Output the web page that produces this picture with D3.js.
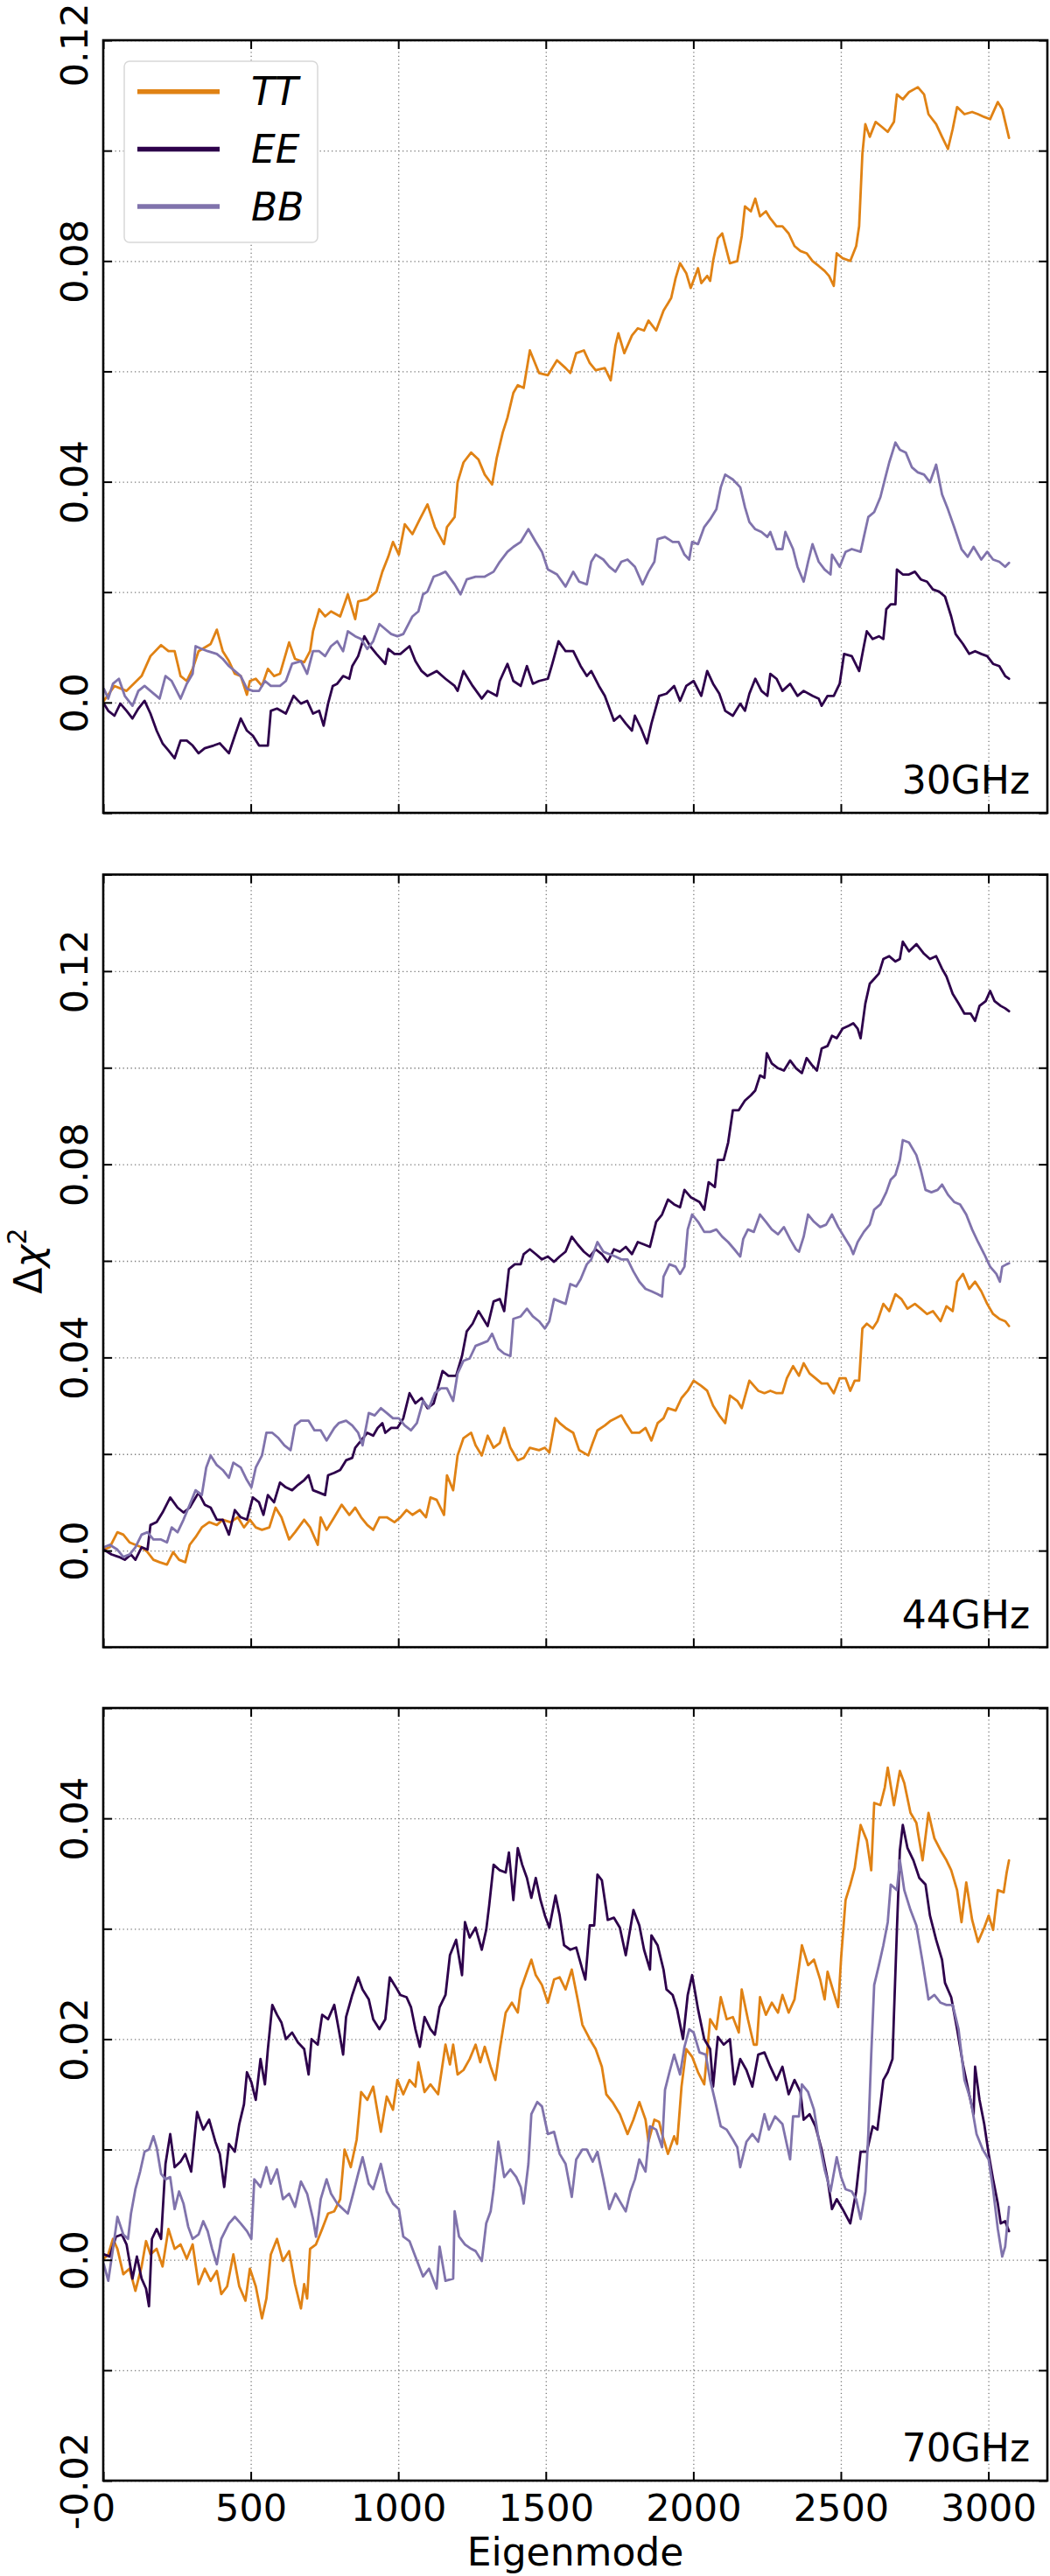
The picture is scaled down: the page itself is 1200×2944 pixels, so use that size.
<!DOCTYPE html>
<html><head><meta charset="utf-8">
<script src="https://cdn.jsdelivr.net/npm/d3@7"></script>
<style>
body{margin:0;background:#fff;}
svg text{font-family:"DejaVu Sans",sans-serif;}
</style></head>
<body><svg id="chart" width="1200" height="2944"></svg>
<script>
// ---------------- DATA ----------------
const seriesNames = ["TT","EE","BB"];
const seriesColors = ["#e08214","#2d004b","#8073ac"];
const panelLabels = ["30GHz","44GHz","70GHz"];
const xDomain = [0,3200];
const xTicks = [0,500,1000,1500,2000,2500,3000];
const xLabel = "Eigenmode";
const yDomain30 = [-0.02,0.12], yTicks30 = [-0.02,0,0.02,0.04,0.06,0.08,0.10,0.12], yTickLabels30 = [0,0.04,0.08,0.12];
const yDomain44 = [-0.02,0.14], yTicks44 = [-0.02,0,0.02,0.04,0.06,0.08,0.10,0.12,0.14], yTickLabels44 = [0,0.04,0.08,0.12];
const yDomain70 = [-0.02,0.05], yTicks70 = [-0.02,-0.01,0,0.01,0.02,0.03,0.04,0.05], yTickLabels70 = [-0.02,0,0.02,0.04];

const tt30 = [[2,0.0003],[38,0.0030],[79,0.0021],[130,0.0048],[160,0.0084],[196,0.0104],[221,0.0093],[242,0.0093],[262,0.0048],[283,0.0039],[303,0.0061],[323,0.0093],[364,0.0106],[385,0.0132],[405,0.0093],[426,0.0075],[446,0.0052],[466,0.0048],[487,0.0014],[497,0.0039],[517,0.0043],[538,0.0030],[558,0.0061],[579,0.0048],[599,0.0052],[630,0.0109],[650,0.0079],[681,0.0073],[701,0.0093],[711,0.0129],[732,0.0169],[752,0.0156],[772,0.0165],[803,0.0156],[829,0.0196],[854,0.0151],[864,0.0183],[895,0.0187],[926,0.0201],[946,0.0237],[966,0.0264],[982,0.0291],[1002,0.0268],[1022,0.0323],[1048,0.0305],[1073,0.0332],[1099,0.0359],[1124,0.0318],[1155,0.0287],[1165,0.0318],[1191,0.0336],[1201,0.0399],[1221,0.0435],[1247,0.0453],[1272,0.0440],[1293,0.0413],[1318,0.0395],[1334,0.0444],[1354,0.0489],[1370,0.0516],[1390,0.0561],[1405,0.0575],[1425,0.0570],[1446,0.0638],[1477,0.0597],[1507,0.0593],[1538,0.0620],[1567,0.0606],[1583,0.0597],[1603,0.0633],[1629,0.0638],[1649,0.0615],[1669,0.0602],[1700,0.0606],[1720,0.0584],[1736,0.0647],[1746,0.0669],[1766,0.0633],[1792,0.0665],[1812,0.0678],[1833,0.0674],[1848,0.0692],[1874,0.0674],[1899,0.0710],[1925,0.0733],[1940,0.0769],[1955,0.0796],[1976,0.0778],[1991,0.0751],[2016,0.0787],[2027,0.0760],[2047,0.0773],[2057,0.0764],[2067,0.0800],[2083,0.0841],[2098,0.0850],[2124,0.0796],[2149,0.0800],[2164,0.0845],[2175,0.0899],[2195,0.0890],[2210,0.0913],[2226,0.0881],[2246,0.0890],[2261,0.0877],[2282,0.0863],[2302,0.0863],[2323,0.0850],[2343,0.0827],[2363,0.0818],[2384,0.0814],[2404,0.0800],[2425,0.0791],[2445,0.0782],[2460,0.0773],[2476,0.0755],[2486,0.0814],[2506,0.0805],[2532,0.0800],[2552,0.0827],[2562,0.0863],[2573,0.0994],[2583,0.1048],[2598,0.1025],[2618,0.1052],[2639,0.1043],[2659,0.1034],[2680,0.1052],[2690,0.1102],[2710,0.1093],[2731,0.1106],[2761,0.1115],[2782,0.1102],[2797,0.1066],[2823,0.1048],[2843,0.1025],[2863,0.1003],[2879,0.1039],[2894,0.1079],[2919,0.1066],[2945,0.1070],[2965,0.1066],[2986,0.1061],[3006,0.1057],[3032,0.1088],[3047,0.1075],[3070,0.1023]];
const ee30 = [[2,-0.0002],[17,-0.0015],[38,-0.0024],[58,-0.0002],[79,-0.0015],[99,-0.0029],[119,-0.0011],[140,0.0003],[160,-0.0020],[181,-0.0051],[201,-0.0074],[221,-0.0087],[242,-0.0101],[262,-0.0069],[283,-0.0069],[303,-0.0078],[323,-0.0092],[344,-0.0083],[374,-0.0078],[395,-0.0074],[426,-0.0092],[446,-0.0060],[466,-0.0029],[487,-0.0051],[507,-0.0060],[528,-0.0078],[558,-0.0078],[568,-0.0015],[589,-0.0011],[619,-0.0020],[645,0.0012],[670,-0.0002],[691,0.0003],[711,-0.0020],[732,-0.0015],[747,-0.0042],[762,-0.0002],[778,0.0030],[793,0.0034],[813,0.0048],[834,0.0043],[844,0.0066],[864,0.0084],[885,0.0120],[905,0.0102],[926,0.0088],[956,0.0070],[966,0.0097],[987,0.0088],[1007,0.0088],[1038,0.0102],[1058,0.0075],[1079,0.0057],[1099,0.0048],[1130,0.0057],[1160,0.0043],[1191,0.0030],[1201,0.0021],[1221,0.0057],[1252,0.0030],[1283,0.0007],[1303,0.0021],[1334,0.0012],[1344,0.0039],[1370,0.0070],[1390,0.0039],[1415,0.0030],[1436,0.0066],[1456,0.0034],[1477,0.0039],[1507,0.0043],[1522,0.0070],[1543,0.0111],[1567,0.0093],[1593,0.0093],[1618,0.0066],[1639,0.0048],[1654,0.0057],[1680,0.0030],[1700,0.0012],[1731,-0.0033],[1751,-0.0024],[1771,-0.0038],[1792,-0.0051],[1802,-0.0024],[1823,-0.0047],[1843,-0.0074],[1858,-0.0038],[1884,0.0012],[1909,0.0016],[1935,0.0030],[1955,0.0003],[1976,0.0030],[2001,0.0039],[2027,0.0012],[2047,0.0057],[2067,0.0034],[2088,0.0016],[2108,-0.0015],[2134,-0.0024],[2159,-0.0002],[2175,-0.0015],[2190,0.0016],[2210,0.0043],[2231,0.0021],[2251,0.0012],[2261,0.0052],[2282,0.0043],[2302,0.0021],[2328,0.0034],[2353,0.0012],[2374,0.0021],[2404,0.0012],[2425,0.0007],[2435,-0.0006],[2455,0.0012],[2476,0.0012],[2496,0.0034],[2511,0.0088],[2537,0.0084],[2562,0.0057],[2578,0.0102],[2588,0.0129],[2608,0.0115],[2629,0.0120],[2644,0.0115],[2654,0.0169],[2669,0.0178],[2685,0.0178],[2690,0.0241],[2710,0.0232],[2731,0.0232],[2751,0.0237],[2771,0.0223],[2792,0.0219],[2812,0.0205],[2833,0.0201],[2853,0.0192],[2874,0.0156],[2889,0.0124],[2914,0.0106],[2935,0.0088],[2955,0.0093],[2976,0.0088],[2996,0.0084],[3016,0.0070],[3037,0.0066],[3057,0.0048],[3070,0.0043]];
const bb30 = [[2,0.0025],[17,0.0007],[33,0.0034],[53,0.0043],[73,0.0012],[99,-0.0006],[119,0.0021],[140,0.0030],[160,0.0021],[191,0.0007],[211,0.0048],[232,0.0039],[262,0.0007],[283,0.0034],[303,0.0052],[313,0.0102],[334,0.0097],[354,0.0093],[385,0.0088],[405,0.0079],[426,0.0066],[446,0.0057],[466,0.0048],[487,0.0025],[507,0.0021],[528,0.0021],[548,0.0039],[568,0.0030],[599,0.0030],[619,0.0039],[640,0.0070],[670,0.0075],[691,0.0052],[711,0.0093],[732,0.0093],[752,0.0084],[772,0.0102],[793,0.0111],[813,0.0093],[829,0.0129],[854,0.0120],[874,0.0115],[895,0.0097],[915,0.0111],[936,0.0142],[956,0.0133],[976,0.0124],[997,0.0120],[1017,0.0124],[1048,0.0156],[1068,0.0165],[1084,0.0196],[1099,0.0201],[1120,0.0228],[1140,0.0232],[1160,0.0237],[1191,0.0214],[1211,0.0196],[1232,0.0223],[1262,0.0228],[1293,0.0228],[1323,0.0237],[1344,0.0255],[1370,0.0273],[1390,0.0282],[1415,0.0291],[1441,0.0314],[1466,0.0291],[1487,0.0273],[1507,0.0241],[1538,0.0232],[1567,0.0210],[1593,0.0237],[1613,0.0219],[1639,0.0214],[1654,0.0255],[1669,0.0268],[1695,0.0259],[1715,0.0246],[1736,0.0237],[1756,0.0255],[1777,0.0259],[1802,0.0246],[1828,0.0214],[1848,0.0237],[1868,0.0255],[1879,0.0296],[1904,0.0300],[1930,0.0291],[1950,0.0291],[1970,0.0268],[1986,0.0259],[1996,0.0291],[2016,0.0287],[2037,0.0318],[2057,0.0332],[2078,0.0350],[2093,0.0390],[2108,0.0413],[2134,0.0404],[2159,0.0390],[2175,0.0354],[2190,0.0327],[2210,0.0314],[2231,0.0309],[2251,0.0300],[2261,0.0309],[2282,0.0278],[2302,0.0278],[2312,0.0309],[2338,0.0278],[2353,0.0246],[2374,0.0219],[2389,0.0255],[2404,0.0287],[2425,0.0255],[2445,0.0241],[2465,0.0232],[2470,0.0268],[2496,0.0246],[2516,0.0273],[2537,0.0278],[2567,0.0273],[2578,0.0300],[2593,0.0336],[2613,0.0345],[2634,0.0372],[2649,0.0404],[2664,0.0435],[2685,0.0471],[2700,0.0458],[2720,0.0453],[2741,0.0426],[2761,0.0417],[2782,0.0413],[2802,0.0399],[2823,0.0431],[2843,0.0377],[2863,0.0350],[2884,0.0318],[2909,0.0278],[2930,0.0264],[2950,0.0282],[2976,0.0259],[2996,0.0273],[3016,0.0259],[3037,0.0255],[3057,0.0246],[3070,0.0253]];

const tt44 = [[2,0.0002],[22,0.0007],[48,0.0038],[68,0.0033],[89,0.0017],[109,0.0012],[130,0.0007],[150,-0.0003],[170,-0.0019],[191,-0.0024],[216,-0.0029],[237,-0.0003],[257,-0.0019],[278,-0.0024],[293,0.0012],[313,0.0028],[334,0.0048],[359,0.0059],[385,0.0053],[405,0.0064],[431,0.0059],[456,0.0069],[477,0.0048],[497,0.0064],[517,0.0048],[538,0.0043],[563,0.0048],[584,0.0089],[604,0.0069],[630,0.0023],[650,0.0038],[681,0.0064],[701,0.0048],[727,0.0012],[737,0.0069],[757,0.0043],[783,0.0069],[808,0.0095],[834,0.0074],[854,0.0089],[874,0.0069],[895,0.0053],[915,0.0043],[936,0.0069],[961,0.0069],[987,0.0059],[1007,0.0069],[1028,0.0084],[1048,0.0074],[1073,0.0084],[1094,0.0069],[1109,0.0110],[1130,0.0105],[1155,0.0074],[1165,0.0156],[1186,0.0125],[1201,0.0197],[1221,0.0233],[1247,0.0244],[1262,0.0218],[1283,0.0197],[1303,0.0238],[1323,0.0213],[1344,0.0223],[1359,0.0254],[1380,0.0213],[1405,0.0187],[1425,0.0192],[1446,0.0213],[1477,0.0208],[1497,0.0213],[1512,0.0203],[1533,0.0274],[1547,0.0264],[1567,0.0254],[1593,0.0244],[1613,0.0208],[1644,0.0197],[1659,0.0223],[1675,0.0249],[1700,0.0259],[1720,0.0269],[1756,0.0280],[1771,0.0264],[1792,0.0244],[1817,0.0244],[1838,0.0254],[1858,0.0228],[1879,0.0264],[1899,0.0274],[1914,0.0295],[1940,0.0290],[1960,0.0316],[1981,0.0331],[2001,0.0352],[2027,0.0341],[2047,0.0331],[2067,0.0300],[2088,0.0280],[2108,0.0264],[2124,0.0321],[2149,0.0310],[2164,0.0295],[2190,0.0352],[2220,0.0331],[2241,0.0326],[2261,0.0331],[2282,0.0326],[2302,0.0326],[2317,0.0357],[2338,0.0382],[2358,0.0362],[2374,0.0388],[2394,0.0367],[2414,0.0357],[2435,0.0346],[2455,0.0346],[2476,0.0326],[2496,0.0357],[2516,0.0357],[2532,0.0331],[2547,0.0352],[2562,0.0352],[2573,0.0460],[2588,0.0470],[2608,0.0460],[2624,0.0475],[2644,0.0511],[2664,0.0496],[2685,0.0531],[2705,0.0521],[2726,0.0501],[2751,0.0511],[2771,0.0501],[2792,0.0490],[2812,0.0496],[2838,0.0475],[2858,0.0506],[2879,0.0496],[2894,0.0557],[2914,0.0573],[2935,0.0542],[2955,0.0557],[2976,0.0537],[2996,0.0511],[3016,0.0490],[3037,0.0480],[3057,0.0475],[3070,0.0465]];
const ee44 = [[2,0.0002],[28,-0.0008],[53,-0.0013],[73,-0.0019],[94,-0.0008],[109,-0.0019],[130,0.0007],[150,0.0002],[160,0.0053],[181,0.0059],[201,0.0079],[227,0.0110],[252,0.0089],[272,0.0079],[293,0.0089],[323,0.0120],[344,0.0095],[364,0.0089],[385,0.0064],[405,0.0064],[426,0.0033],[446,0.0084],[466,0.0069],[487,0.0064],[507,0.0110],[528,0.0100],[543,0.0074],[558,0.0115],[579,0.0100],[599,0.0141],[619,0.0131],[640,0.0125],[660,0.0136],[681,0.0146],[696,0.0156],[711,0.0125],[732,0.0120],[752,0.0115],[762,0.0156],[783,0.0161],[803,0.0167],[823,0.0187],[844,0.0192],[854,0.0213],[874,0.0228],[895,0.0244],[915,0.0238],[930,0.0254],[946,0.0264],[956,0.0244],[976,0.0254],[997,0.0254],[1017,0.0274],[1038,0.0326],[1058,0.0305],[1079,0.0316],[1099,0.0295],[1120,0.0305],[1150,0.0372],[1170,0.0362],[1196,0.0362],[1216,0.0403],[1232,0.0454],[1252,0.0470],[1272,0.0496],[1293,0.0475],[1303,0.0465],[1323,0.0516],[1344,0.0521],[1359,0.0496],[1375,0.0583],[1395,0.0593],[1415,0.0593],[1425,0.0614],[1446,0.0624],[1466,0.0614],[1487,0.0603],[1507,0.0609],[1528,0.0598],[1547,0.0609],[1567,0.0619],[1588,0.0650],[1608,0.0634],[1629,0.0619],[1649,0.0609],[1669,0.0624],[1690,0.0614],[1710,0.0598],[1731,0.0624],[1751,0.0619],[1771,0.0629],[1792,0.0614],[1812,0.0639],[1833,0.0634],[1853,0.0629],[1874,0.0681],[1894,0.0696],[1914,0.0727],[1935,0.0717],[1955,0.0711],[1970,0.0747],[1991,0.0732],[2006,0.0727],[2021,0.0722],[2037,0.0706],[2052,0.0763],[2073,0.0753],[2083,0.0809],[2103,0.0809],[2118,0.0845],[2134,0.0912],[2154,0.0912],[2175,0.0932],[2195,0.0943],[2210,0.0953],[2226,0.0984],[2241,0.0979],[2249,0.1030],[2266,0.1009],[2287,0.0999],[2307,0.0994],[2328,0.1015],[2348,0.0999],[2368,0.0989],[2384,0.1020],[2404,0.1004],[2419,0.0994],[2435,0.1040],[2455,0.1045],[2470,0.1066],[2486,0.1061],[2506,0.1081],[2527,0.1087],[2542,0.1092],[2557,0.1081],[2567,0.1061],[2583,0.1133],[2598,0.1174],[2613,0.1184],[2629,0.1195],[2644,0.1225],[2664,0.1231],[2685,0.1220],[2700,0.1225],[2710,0.1261],[2731,0.1241],[2756,0.1256],[2782,0.1236],[2802,0.1225],[2823,0.1231],[2843,0.1205],[2858,0.1189],[2879,0.1153],[2899,0.1133],[2919,0.1112],[2940,0.1112],[2955,0.1097],[2970,0.1128],[2991,0.1138],[3006,0.1159],[3021,0.1138],[3042,0.1128],[3057,0.1123],[3070,0.1117]];
const bb44 = [[2,0.0007],[22,0.0012],[48,0.0002],[68,-0.0013],[89,-0.0008],[109,0.0007],[130,0.0033],[150,0.0038],[170,0.0023],[196,0.0023],[216,0.0017],[232,0.0048],[252,0.0038],[272,0.0064],[293,0.0095],[313,0.0125],[334,0.0115],[349,0.0172],[364,0.0197],[385,0.0177],[405,0.0167],[426,0.0151],[441,0.0182],[466,0.0172],[487,0.0146],[502,0.0131],[517,0.0172],[538,0.0197],[553,0.0244],[573,0.0244],[594,0.0233],[614,0.0218],[635,0.0208],[650,0.0259],[670,0.0269],[696,0.0269],[716,0.0249],[737,0.0249],[757,0.0228],[783,0.0254],[798,0.0264],[823,0.0269],[844,0.0259],[864,0.0244],[879,0.0218],[900,0.0285],[920,0.0280],[941,0.0295],[961,0.0285],[982,0.0274],[1002,0.0274],[1022,0.0259],[1043,0.0249],[1063,0.0264],[1084,0.0310],[1104,0.0295],[1124,0.0326],[1145,0.0336],[1165,0.0336],[1186,0.0310],[1201,0.0367],[1221,0.0393],[1242,0.0398],[1262,0.0424],[1283,0.0429],[1303,0.0434],[1318,0.0449],[1339,0.0418],[1359,0.0408],[1380,0.0403],[1390,0.0480],[1415,0.0485],[1436,0.0501],[1456,0.0485],[1477,0.0475],[1497,0.0460],[1512,0.0475],[1528,0.0521],[1547,0.0516],[1567,0.0511],[1583,0.0552],[1603,0.0547],[1618,0.0562],[1639,0.0593],[1654,0.0603],[1675,0.0639],[1695,0.0619],[1715,0.0614],[1736,0.0609],[1756,0.0603],[1777,0.0603],[1797,0.0578],[1817,0.0557],[1838,0.0542],[1858,0.0537],[1879,0.0531],[1894,0.0526],[1899,0.0567],[1919,0.0593],[1940,0.0588],[1955,0.0573],[1970,0.0588],[1981,0.0665],[1996,0.0696],[2016,0.0681],[2037,0.0660],[2057,0.0660],[2078,0.0665],[2098,0.0650],[2118,0.0639],[2139,0.0624],[2159,0.0609],[2169,0.0645],[2185,0.0665],[2205,0.0660],[2226,0.0696],[2246,0.0681],[2266,0.0665],[2287,0.0655],[2307,0.0670],[2328,0.0645],[2348,0.0624],[2358,0.0619],[2374,0.0650],[2389,0.0696],[2409,0.0681],[2430,0.0670],[2450,0.0675],[2470,0.0696],[2491,0.0670],[2511,0.0650],[2532,0.0629],[2542,0.0614],[2557,0.0639],[2578,0.0660],[2598,0.0675],[2613,0.0706],[2634,0.0717],[2654,0.0742],[2669,0.0768],[2685,0.0778],[2700,0.0809],[2710,0.0850],[2731,0.0845],[2756,0.0819],[2771,0.0788],[2787,0.0747],[2807,0.0742],[2828,0.0747],[2843,0.0758],[2863,0.0737],[2884,0.0722],[2904,0.0717],[2925,0.0696],[2945,0.0665],[2965,0.0639],[2986,0.0614],[3006,0.0588],[3027,0.0573],[3039,0.0557],[3047,0.0588],[3062,0.0593],[3070,0.0595]];

const tt70 = [[2,0.0001],[17,0.0005],[33,0.0019],[48,0.0010],[68,-0.0013],[89,-0.0008],[109,-0.0028],[130,-0.0006],[145,0.0017],[160,0.0005],[181,0.0010],[201,-0.0006],[221,0.0028],[242,0.0010],[262,0.0014],[283,0.0001],[303,0.0014],[323,-0.0022],[344,-0.0008],[364,-0.0019],[385,-0.0010],[400,-0.0031],[420,-0.0024],[441,0.0005],[461,-0.0024],[482,-0.0037],[497,-0.0008],[517,-0.0024],[538,-0.0053],[553,-0.0035],[568,0.0005],[589,0.0019],[609,-0.0001],[630,0.0008],[650,-0.0022],[670,-0.0044],[681,-0.0022],[691,-0.0035],[701,0.0010],[721,0.0014],[742,0.0028],[762,0.0042],[783,0.0044],[803,0.0055],[818,0.0100],[839,0.0084],[859,0.0109],[874,0.0152],[895,0.0145],[915,0.0157],[941,0.0116],[961,0.0148],[982,0.0136],[997,0.0163],[1017,0.0150],[1038,0.0163],[1058,0.0157],[1068,0.0179],[1089,0.0152],[1109,0.0159],[1135,0.0150],[1150,0.0177],[1160,0.0195],[1175,0.0177],[1186,0.0195],[1201,0.0168],[1221,0.0172],[1242,0.0182],[1262,0.0195],[1278,0.0179],[1293,0.0193],[1313,0.0175],[1329,0.0163],[1344,0.0191],[1364,0.0224],[1385,0.0233],[1405,0.0224],[1415,0.0245],[1436,0.0261],[1451,0.0272],[1466,0.0258],[1487,0.0249],[1507,0.0233],[1528,0.0254],[1547,0.0256],[1567,0.0245],[1588,0.0263],[1608,0.0236],[1624,0.0213],[1649,0.0200],[1669,0.0191],[1690,0.0175],[1705,0.0150],[1726,0.0143],[1751,0.0132],[1777,0.0114],[1797,0.0127],[1817,0.0143],[1838,0.0127],[1848,0.0107],[1868,0.0127],[1884,0.0125],[1894,0.0114],[1914,0.0096],[1935,0.0112],[1945,0.0105],[1960,0.0157],[1976,0.0191],[1996,0.0184],[2016,0.0170],[2037,0.0159],[2057,0.0218],[2078,0.0209],[2093,0.0238],[2113,0.0218],[2134,0.0220],[2154,0.0206],[2164,0.0245],[2185,0.0218],[2205,0.0195],[2215,0.0195],[2226,0.0238],[2246,0.0222],[2266,0.0233],[2287,0.0224],[2302,0.0240],[2323,0.0224],[2343,0.0236],[2358,0.0265],[2368,0.0285],[2389,0.0267],[2409,0.0272],[2430,0.0254],[2445,0.0236],[2455,0.0261],[2476,0.0242],[2491,0.0229],[2501,0.0274],[2516,0.0326],[2532,0.0340],[2547,0.0355],[2567,0.0394],[2588,0.0380],[2603,0.0353],[2613,0.0414],[2634,0.0412],[2649,0.0428],[2659,0.0446],[2680,0.0412],[2700,0.0443],[2715,0.0432],[2736,0.0405],[2756,0.0396],[2777,0.0362],[2797,0.0405],[2817,0.0382],[2838,0.0371],[2858,0.0362],[2874,0.0353],[2894,0.0335],[2909,0.0306],[2925,0.0342],[2945,0.0308],[2965,0.0288],[2986,0.0301],[3001,0.0312],[3016,0.0299],[3032,0.0335],[3052,0.0333],[3062,0.0351],[3070,0.0362]];
const ee70 = [[2,0.0005],[22,0.0003],[43,0.0021],[63,0.0023],[79,0.0014],[99,-0.0017],[114,0.0003],[130,-0.0017],[145,-0.0026],[155,-0.0042],[165,0.0019],[181,0.0028],[196,0.0019],[211,0.0087],[227,0.0114],[242,0.0084],[262,0.0089],[278,0.0096],[298,0.0080],[318,0.0134],[339,0.0118],[359,0.0127],[380,0.0107],[395,0.0096],[410,0.0066],[426,0.0105],[446,0.0098],[461,0.0123],[477,0.0141],[487,0.0170],[502,0.0161],[517,0.0145],[533,0.0182],[548,0.0159],[558,0.0191],[573,0.0231],[589,0.0222],[604,0.0215],[619,0.0200],[640,0.0206],[660,0.0197],[681,0.0191],[696,0.0168],[706,0.0200],[727,0.0195],[742,0.0222],[762,0.0218],[783,0.0231],[798,0.0209],[813,0.0186],[823,0.0220],[844,0.0240],[864,0.0256],[879,0.0245],[900,0.0236],[915,0.0218],[936,0.0209],[956,0.0218],[971,0.0256],[992,0.0247],[1007,0.0240],[1028,0.0238],[1043,0.0229],[1058,0.0209],[1073,0.0193],[1089,0.0220],[1109,0.0209],[1124,0.0204],[1140,0.0229],[1160,0.0240],[1175,0.0276],[1196,0.0290],[1216,0.0258],[1226,0.0306],[1242,0.0292],[1262,0.0301],[1283,0.0281],[1298,0.0299],[1308,0.0321],[1323,0.0358],[1344,0.0353],[1364,0.0351],[1375,0.0369],[1390,0.0326],[1405,0.0373],[1420,0.0358],[1436,0.0346],[1451,0.0328],[1466,0.0346],[1482,0.0326],[1497,0.0312],[1512,0.0301],[1533,0.0330],[1547,0.0312],[1562,0.0285],[1583,0.0281],[1603,0.0283],[1624,0.0263],[1634,0.0254],[1649,0.0303],[1664,0.0303],[1675,0.0349],[1690,0.0344],[1710,0.0308],[1731,0.0310],[1751,0.0301],[1771,0.0276],[1797,0.0317],[1817,0.0303],[1833,0.0281],[1853,0.0263],[1858,0.0294],[1879,0.0285],[1899,0.0263],[1909,0.0245],[1930,0.0240],[1945,0.0227],[1965,0.0200],[1981,0.0240],[1996,0.0258],[2016,0.0227],[2037,0.0200],[2057,0.0191],[2067,0.0157],[2083,0.0202],[2103,0.0195],[2124,0.0200],[2139,0.0159],[2159,0.0182],[2180,0.0172],[2200,0.0157],[2220,0.0186],[2241,0.0188],[2261,0.0175],[2282,0.0163],[2302,0.0175],[2323,0.0150],[2343,0.0163],[2363,0.0152],[2374,0.0127],[2394,0.0132],[2414,0.0121],[2435,0.0100],[2455,0.0073],[2470,0.0046],[2486,0.0055],[2506,0.0046],[2532,0.0033],[2552,0.0062],[2567,0.0098],[2588,0.0098],[2608,0.0121],[2624,0.0118],[2644,0.0163],[2659,0.0170],[2675,0.0182],[2680,0.0222],[2690,0.0299],[2700,0.0371],[2710,0.0394],[2726,0.0373],[2746,0.0362],[2766,0.0346],[2787,0.0340],[2802,0.0312],[2823,0.0290],[2843,0.0272],[2853,0.0251],[2874,0.0238],[2894,0.0209],[2914,0.0177],[2935,0.0150],[2950,0.0132],[2955,0.0175],[2970,0.0145],[2986,0.0123],[3001,0.0096],[3016,0.0073],[3032,0.0051],[3042,0.0033],[3057,0.0035],[3070,0.0026]];
const bb70 = [[2,-0.0004],[17,-0.0019],[33,0.0010],[48,0.0039],[68,0.0023],[84,0.0019],[94,0.0042],[109,0.0064],[125,0.0080],[140,0.0098],[155,0.0100],[170,0.0112],[181,0.0102],[196,0.0078],[211,0.0073],[227,0.0075],[242,0.0046],[257,0.0062],[272,0.0051],[288,0.0030],[303,0.0019],[323,0.0023],[339,0.0035],[354,0.0026],[369,0.0010],[385,-0.0004],[400,0.0019],[426,0.0033],[446,0.0039],[466,0.0033],[487,0.0026],[502,0.0019],[512,0.0073],[533,0.0066],[553,0.0084],[568,0.0069],[589,0.0082],[609,0.0055],[630,0.0060],[650,0.0048],[670,0.0071],[691,0.0060],[711,0.0037],[721,0.0021],[737,0.0055],[757,0.0073],[772,0.0060],[793,0.0051],[813,0.0046],[829,0.0042],[844,0.0057],[864,0.0078],[879,0.0093],[900,0.0069],[915,0.0064],[941,0.0087],[961,0.0062],[982,0.0051],[1002,0.0046],[1017,0.0021],[1038,0.0017],[1058,0.0003],[1084,-0.0015],[1104,-0.0008],[1130,-0.0026],[1140,0.0012],[1160,-0.0019],[1186,-0.0017],[1191,0.0044],[1206,0.0021],[1226,0.0014],[1247,0.0010],[1262,0.0008],[1283,-0.0001],[1298,0.0033],[1313,0.0044],[1323,0.0064],[1339,0.0107],[1359,0.0075],[1380,0.0082],[1400,0.0075],[1415,0.0066],[1425,0.0051],[1441,0.0087],[1451,0.0132],[1471,0.0143],[1487,0.0139],[1507,0.0114],[1528,0.0116],[1547,0.0096],[1567,0.0087],[1588,0.0057],[1603,0.0091],[1624,0.0100],[1639,0.0100],[1659,0.0089],[1675,0.0098],[1695,0.0073],[1715,0.0046],[1736,0.0060],[1751,0.0053],[1771,0.0044],[1787,0.0062],[1802,0.0073],[1817,0.0091],[1838,0.0080],[1853,0.0121],[1874,0.0118],[1894,0.0102],[1904,0.0154],[1919,0.0170],[1935,0.0186],[1955,0.0168],[1970,0.0193],[1986,0.0209],[2001,0.0206],[2021,0.0188],[2042,0.0186],[2057,0.0163],[2073,0.0145],[2093,0.0121],[2113,0.0118],[2134,0.0109],[2149,0.0102],[2159,0.0084],[2180,0.0107],[2200,0.0114],[2220,0.0107],[2241,0.0132],[2256,0.0118],[2277,0.0130],[2302,0.0123],[2328,0.0091],[2338,0.0130],[2358,0.0130],[2368,0.0159],[2389,0.0152],[2409,0.0136],[2425,0.0109],[2445,0.0082],[2465,0.0062],[2486,0.0093],[2501,0.0075],[2516,0.0064],[2537,0.0062],[2552,0.0055],[2567,0.0037],[2583,0.0062],[2593,0.0114],[2603,0.0186],[2613,0.0249],[2629,0.0267],[2644,0.0285],[2659,0.0306],[2669,0.0340],[2690,0.0335],[2700,0.0362],[2715,0.0335],[2736,0.0317],[2756,0.0303],[2777,0.0270],[2797,0.0236],[2817,0.0240],[2838,0.0233],[2858,0.0231],[2879,0.0231],[2899,0.0209],[2919,0.0163],[2940,0.0145],[2960,0.0114],[2981,0.0100],[3001,0.0091],[3016,0.0064],[3032,0.0028],[3047,0.0003],[3057,0.0012],[3070,0.0048]];

// ---------------- TABLE ----------------
const panels = [
  {label: panelLabels[0], domain: yDomain30, ticks: yTicks30, labels: yTickLabels30, series: [tt30, ee30, bb30]},
  {label: panelLabels[1], domain: yDomain44, ticks: yTicks44, labels: yTickLabels44, series: [tt44, ee44, bb44]},
  {label: panelLabels[2], domain: yDomain70, ticks: yTicks70, labels: yTickLabels70, series: [tt70, ee70, bb70]}
];

// ---------------- LAYOUT ----------------
const W = 1200, H = 2944;
const L = 118, R = 1197;
const panelTops = [46, 999.5, 1952];
const PH = 883;
const FS = 44, TFS = 43;
const svg = d3.select("#chart");
svg.append("rect").attr("width", W).attr("height", H).attr("fill", "#fff");

const x = d3.scaleLinear().domain(xDomain).range([L, R]);

function fmtY(v) {
  if (Math.abs(v) < 1e-12) return "0.0";
  return v.toFixed(2);
}
const isIn = (arr, v) => arr.some(a => Math.abs(a - v) < 1e-9);

panels.forEach((p, i) => {
  const top = panelTops[i], bottom = top + PH;
  const y = d3.scaleLinear().domain(p.domain).range([bottom, top]);
  const g = svg.append("g");

  // grid
  const gx = g.append("g").attr("transform", `translate(0,${bottom})`)
    .call(d3.axisBottom(x).tickValues(xTicks).tickSize(-PH).tickSizeOuter(0).tickFormat(""));
  gx.select(".domain").remove();
  gx.selectAll("line").attr("stroke", "#7a7a7a").attr("stroke-width", 1.3).attr("stroke-dasharray", "1.3,3.2");
  const gy = g.append("g").attr("transform", `translate(${L},0)`)
    .call(d3.axisLeft(y).tickValues(p.ticks).tickSize(-(R - L)).tickSizeOuter(0).tickFormat(""));
  gy.select(".domain").remove();
  gy.selectAll("line").attr("stroke", "#7a7a7a").attr("stroke-width", 1.3).attr("stroke-dasharray", "1.3,3.2");

  // clip
  const cid = "clip" + i;
  svg.append("clipPath").attr("id", cid).append("rect")
    .attr("x", L).attr("y", top).attr("width", R - L).attr("height", PH);

  const line = d3.line().x(d => x(d[0])).y(d => y(d[1]));
  const lg = g.append("g").attr("clip-path", `url(#${cid})`);
  p.series.forEach((s, k) => {
    lg.append("path").datum(s).attr("d", line)
      .attr("fill", "none").attr("stroke", seriesColors[k])
      .attr("stroke-width", 2.8).attr("stroke-linejoin", "round").attr("stroke-linecap", "round");
  });

  // ticks: left (with labels), right, top, bottom
  const aL = g.append("g").attr("transform", `translate(${L},0)`)
    .call(d3.axisLeft(y).tickValues(p.ticks).tickSize(-10).tickSizeOuter(0)
      .tickFormat(v => isIn(p.labels, v) ? fmtY(v) : ""));
  aL.select(".domain").remove();
  aL.selectAll("line").attr("stroke", "#000").attr("stroke-width", 2);
  aL.selectAll("text").attr("x", 0).attr("dy", 0).attr("text-anchor", "middle")
    .attr("transform", function(v) {
      // keep the topmost label of the first panel inside the picture
      const cy = y(v), half = fmtY(v).length * TFS * 0.29;
      const shift = Math.max(0, half - cy + 1);
      return `translate(-18,${shift}) rotate(-90)`;
    })
    .attr("font-size", TFS).attr("font-family", "DejaVu Sans").attr("fill", "#000");

  const aR = g.append("g").attr("transform", `translate(${R},0)`)
    .call(d3.axisRight(y).tickValues(p.ticks).tickSize(-10).tickSizeOuter(0).tickFormat(""));
  aR.select(".domain").remove();
  aR.selectAll("line").attr("stroke", "#000").attr("stroke-width", 2);

  const aT = g.append("g").attr("transform", `translate(0,${top})`)
    .call(d3.axisTop(x).tickValues(xTicks).tickSize(-10).tickSizeOuter(0).tickFormat(""));
  aT.select(".domain").remove();
  aT.selectAll("line").attr("stroke", "#000").attr("stroke-width", 2);

  const last = i === panels.length - 1;
  const aB = g.append("g").attr("transform", `translate(0,${bottom})`)
    .call(d3.axisBottom(x).tickValues(xTicks).tickSize(-10).tickSizeOuter(0)
      .tickFormat(last ? d3.format("d") : ""));
  aB.select(".domain").remove();
  aB.selectAll("line").attr("stroke", "#000").attr("stroke-width", 2);
  aB.selectAll("text").attr("y", 46).attr("dy", 0)
    .attr("font-size", TFS).attr("font-family", "DejaVu Sans").attr("fill", "#000");

  // frame
  g.append("rect").attr("x", L).attr("y", top).attr("width", R - L).attr("height", PH)
    .attr("fill", "none").attr("stroke", "#000").attr("stroke-width", 2.6);

  // panel label
  g.append("text").attr("x", 1177).attr("y", bottom - 22).attr("text-anchor", "end")
    .attr("font-size", FS).attr("fill", "#000").text(p.label);

  // legend in first panel
  if (i === 0) {
    const lgd = g.append("g");
    lgd.append("rect").attr("x", 142).attr("y", 70).attr("width", 221).attr("height", 207)
      .attr("rx", 6).attr("fill", "#fff").attr("stroke", "#d8d8d8").attr("stroke-width", 1.5);
    seriesNames.forEach((n, k) => {
      const ly = 104.7 + k * 65.7;
      lgd.append("line").attr("x1", 157).attr("x2", 251).attr("y1", ly).attr("y2", ly)
        .attr("stroke", seriesColors[k]).attr("stroke-width", 5.5);
      lgd.append("text").attr("x", 287).attr("y", ly + 15.5).attr("font-size", FS)
        .attr("font-style", "italic").attr("fill", "#000").text(n);
    });
  }
});

// x label
svg.append("text").attr("x", (L + R) / 2).attr("y", 2932).attr("text-anchor", "middle")
  .attr("font-size", FS).attr("fill", "#000").text(xLabel);

// y label
const yl = svg.append("text").attr("text-anchor", "middle")
  .attr("transform", `translate(48,${panelTops[1] + PH / 2}) rotate(-90)`)
  .attr("font-size", FS).attr("fill", "#000");
yl.append("tspan").text("Δ");
yl.append("tspan").attr("font-style", "italic").text("χ");
yl.append("tspan").attr("font-size", 30).attr("dy", -18).text("2");
</script>
</body></html>
